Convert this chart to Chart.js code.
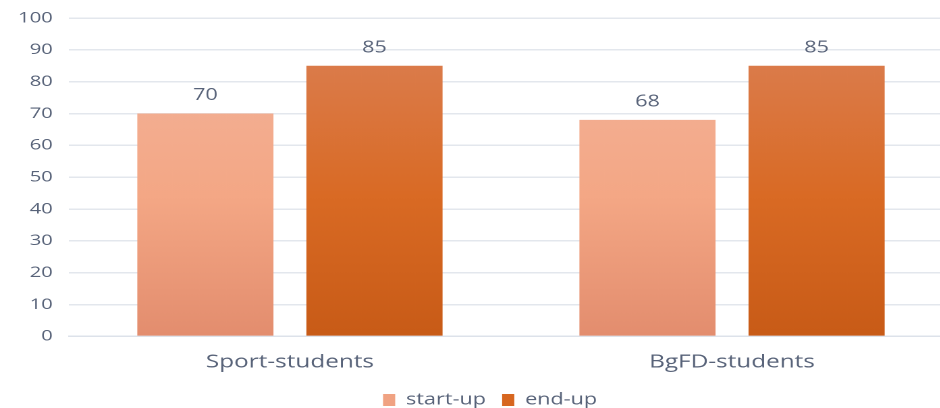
<!DOCTYPE html>
<html>
<head>
<meta charset="utf-8">
<script src="https://cdn.jsdelivr.net/npm/chart.js@4"></script>
<style>
  html, body { margin: 0; padding: 0; background: #fff; overflow: hidden; width: 940px; height: 408px; }
  /* the reference is a horizontally stretched picture, so draw narrow and stretch */
  #wrap { width: 706px; height: 408px; position: relative; transform: scaleX(1.35); transform-origin: 0 0; }
</style>
</head>
<body>
<div id="wrap"><canvas id="chart"></canvas></div>
<script>
// values
var categories = ['Sport-students', 'BgFD-students'];
var startUp = [70, 68];
var endUp = [85, 85];
var seriesNames = ['start-up', 'end-up'];

var FONT = "'Open Sans', sans-serif";
var TEXT = '#586379';

function vGrad(stops) {
  return function (context) {
    var chart = context.chart;
    var area = chart.chartArea;
    if (!area) return stops[1];
    var g = chart.ctx.createLinearGradient(0, area.top + 40, 0, area.bottom);
    g.addColorStop(0, stops[0]);
    g.addColorStop(0.5, stops[1]);
    g.addColorStop(1, stops[2]);
    return g;
  };
}

// value labels above bars
var valueLabels = {
  id: 'valueLabels',
  afterLayout: function (chart) {
    // legend sits a little right of centre in the reference
    if (chart.legend) {
      chart.legend.left += 10;
      chart.legend.right += 10;
    }
  },
  afterDatasetsDraw: function (chart) {
    var ctx = chart.ctx;
    ctx.save();
    ctx.font = '16px ' + FONT;
    ctx.fillStyle = TEXT;
    ctx.textAlign = 'center';
    ctx.textBaseline = 'bottom';
    chart.data.datasets.forEach(function (ds, i) {
      chart.getDatasetMeta(i).data.forEach(function (bar, j) {
        ctx.fillText(String(ds.data[j]), bar.x, bar.y - 10);
      });
    });
    ctx.restore();
  }
};

new Chart(document.getElementById('chart'), {
  type: 'bar',
  data: {
    labels: categories,
    datasets: [
      {
        label: seriesNames[0],
        data: startUp,
        backgroundColor: vGrad(['#F2B197', '#F4A785', '#E38D6E']),
        borderWidth: 0,
        categoryPercentage: 0.765,
        barPercentage: 0.805
      },
      {
        label: seriesNames[1],
        data: endUp,
        backgroundColor: vGrad(['#DB7C4C', '#D96A24', '#C85B17']),
        borderWidth: 0,
        categoryPercentage: 0.765,
        barPercentage: 0.805
      }
    ]
  },
  options: {
    responsive: true,
    maintainAspectRatio: false,
    animation: false,
    devicePixelRatio: 2,
    layout: { padding: { top: 18, left: 0, right: 0, bottom: -10 } },
    plugins: {
      tooltip: { enabled: false },
      legend: {
        position: 'bottom',
        labels: {
          color: TEXT,
          font: { family: FONT, size: 16 },
          boxWidth: 9,
          boxHeight: 12,
          padding: 12,
          generateLabels: function (chart) {
            var solid = ['#F0A282', '#D7661F'];
            return chart.data.datasets.map(function (ds, i) {
              return {
                text: ds.label,
                fillStyle: solid[i],
                strokeStyle: solid[i],
                lineWidth: 0,
                fontColor: TEXT,
                datasetIndex: i
              };
            });
          }
        }
      }
    },
    scales: {
      x: {
        grid: { display: false },
        border: { color: '#DDE2EA', width: 1.5 },
        ticks: { color: TEXT, font: { family: FONT, size: 18 }, padding: 7 },
        afterFit: function (scale) {
          scale.paddingLeft = 0;
          scale.paddingRight = 0;
        }
      },
      y: {
        min: 0,
        max: 100,
        ticks: { stepSize: 10, color: TEXT, font: { family: FONT, size: 15 }, padding: 11.9 },
        grid: { color: '#E3E7ED', lineWidth: 1.5, drawTicks: false },
        border: { display: false },
        afterFit: function (scale) {
          scale.width = 51;
          scale.paddingTop = 0;
          scale.paddingBottom = 0;
        }
      }
    }
  },
  plugins: [valueLabels]
});
</script>
</body>
</html>
